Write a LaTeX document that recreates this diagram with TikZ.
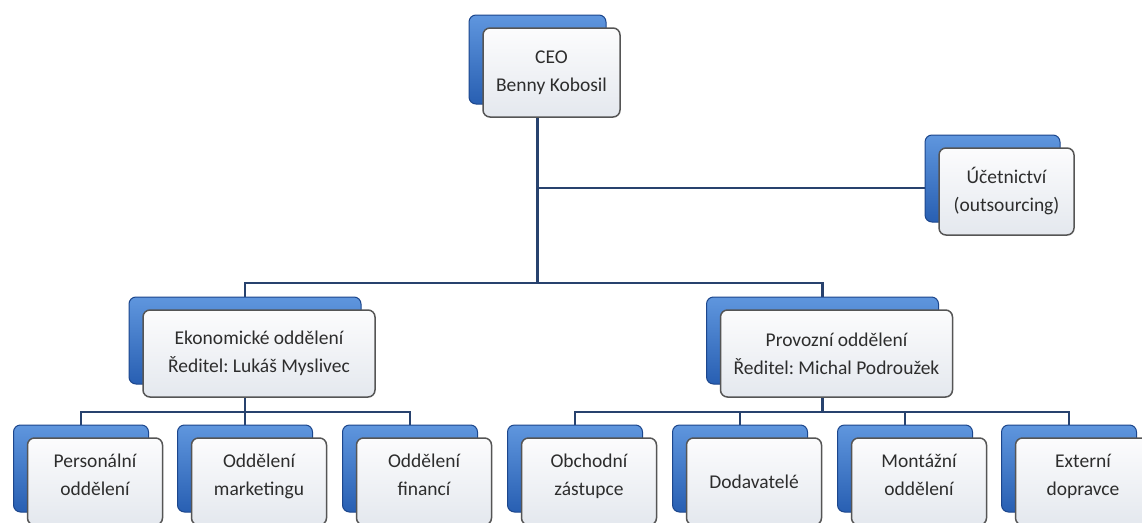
\documentclass[tikz,border=0pt]{standalone}
\usepackage{fontspec}
\setmainfont{Carlito}
\usetikzlibrary{backgrounds}
\definecolor{linec}{RGB}{40,66,110}
\definecolor{bluetop}{RGB}{95,150,222}
\definecolor{bluebot}{RGB}{40,95,178}
\definecolor{blueedge}{RGB}{28,70,140}
\definecolor{fronttop}{RGB}{252,252,253}
\definecolor{frontbot}{RGB}{228,232,238}
\definecolor{frontedge}{RGB}{85,85,85}
\definecolor{txt}{RGB}{45,45,45}
\frenchspacing
\begin{document}
\begin{tikzpicture}[x=1pt,y=-1pt,
  back/.style={draw=blueedge, line width=1pt, rounded corners=7pt,
    top color=bluetop, bottom color=bluebot, inner sep=0pt},
  front/.style={draw=frontedge, line width=1.5pt, rounded corners=7pt,
    top color=fronttop, bottom color=frontbot, align=center, text=txt,
    font=\fontsize{19.5}{28}\selectfont, inner sep=0pt},
  small/.style={minimum width=135pt, minimum height=87pt},
  wide/.style={minimum width=232pt, minimum height=87pt},
  ceosz/.style={minimum width=137pt, minimum height=89pt},
  lowtext/.style={text depth=13pt},
  conn/.style={draw=linec, line width=2.5pt}]
\useasboundingbox (0,0) rectangle (1142,522);
\clip (0,0) rectangle (1142,522);
% CEO
\node[back, ceosz] (ceob) at (537.5,59.5) {};
\node[front, ceosz] (ceo) at (551.5,72.5) {CEO\\Benny Kobosil};
% Accounting
\node[back, small] (ucetb) at (992.5,178.5) {};
\node[front, small] (ucet) at (1006.5,191.5) {Účetnictví\\(outsourcing)};
% Departments
\node[back, wide] (ekob) at (245,340.5) {};
\node[front, wide] (eko) at (259,353.5) {Ekonomické oddělení\\Ředitel: Lukáš Myslivec};
\node[back, wide] (provb) at (822.5,340.5) {};
\node[front, wide] (prov) at (836.5,353.5) {Provozní oddělení\\Ředitel: Michal Podroužek};
% Bottom row
\node[back, small] (persb) at (81,468.5) {};
\node[front, small, lowtext] (pers) at (95,481.5) {Personální\\oddělení};
\node[back, small] (markb) at (245,468.5) {};
\node[front, small, lowtext] (mark) at (259,481.5) {Oddělení\\marketingu};
\node[back, small] (finb) at (410,468.5) {};
\node[front, small, lowtext] (fin) at (424,481.5) {Oddělení\\financí};
\node[back, small] (obchb) at (575,468.5) {};
\node[front, small, lowtext] (obch) at (589,481.5) {Obchodní\\zástupce};
\node[back, small] (dodb) at (740,468.5) {};
\node[front, small] (dod) at (754,481.5) {Dodavatelé};
\node[back, small] (montb) at (905,468.5) {};
\node[front, small, lowtext] (mont) at (919,481.5) {Montážní\\oddělení};
\node[back, small] (extb) at (1069,468.5) {};
\node[front, small, lowtext] (ext) at (1083,481.5) {Externí\\dopravce};
% junctions
\coordinate (jtop) at (537.5,283);
\coordinate (jacc) at (537.5,188);
\coordinate (jleft) at (245,412);
\coordinate (jright) at (822.5,412);
\begin{pgfonlayer}{background}
\fill[white] (0,0) rectangle (1142,522);
\draw[conn] (ceob.south) -- (jtop);
\draw[conn] (jacc) -- (jacc -| ucetb.west);
\draw[conn] (ekob.north) |- (jtop) -| (provb.north);
\draw[conn] (ekob.south) -- (jleft);
\draw[conn] (persb.north) |- (jleft) -| (finb.north);
\draw[conn] (jleft) -- (markb.north);
\draw[conn] (provb.south) -- (jright);
\draw[conn] (obchb.north) |- (jright) -| (extb.north);
\draw[conn] (dodb.north) |- (jright);
\draw[conn] (montb.north) |- (jright);
\end{pgfonlayer}
\end{tikzpicture}
\end{document}
